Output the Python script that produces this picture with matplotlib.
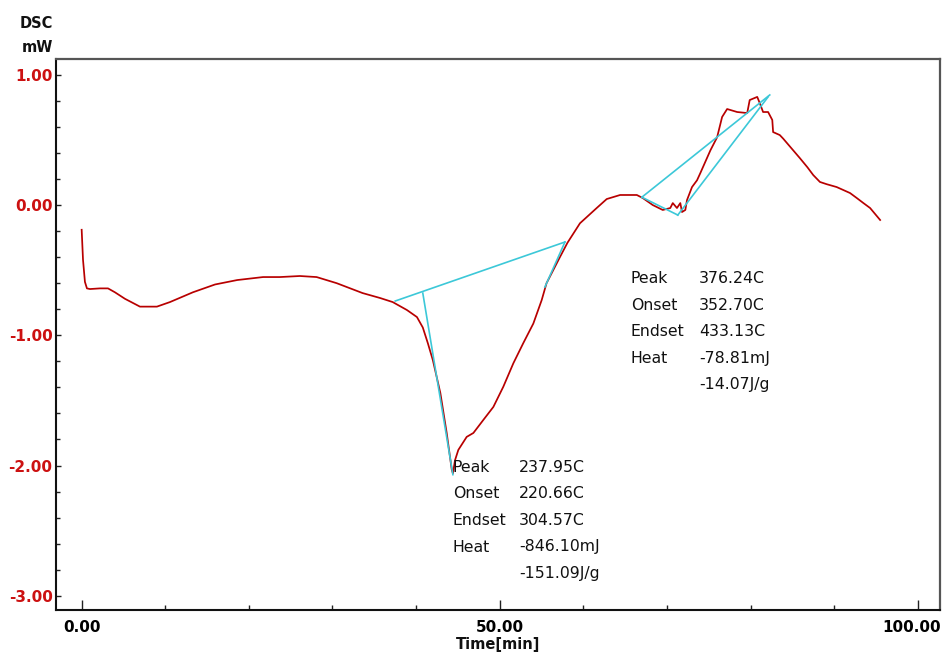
import matplotlib
matplotlib.use("Agg")
import matplotlib.pyplot as plt
import matplotlib.transforms as mtransforms
from matplotlib.ticker import MultipleLocator, FormatStrFormatter

# ---------------- data ----------------
time_min = [0.00, 0.16, 0.39, 0.63, 0.99, 2.19, 3.15, 3.98, 5.18, 6.97, 8.17, 9.00,
            10.56, 13.3, 15.95, 18.6, 21.7, 23.7, 26.1, 28.1, 30.5, 33.6, 35.7, 37.2,
            38.9, 40.1, 40.8, 41.4, 42.0, 42.9, 43.66, 44.26, 44.4, 44.65, 45.05, 46.05,
            46.85, 48.04, 49.24, 50.43, 51.63, 52.82, 54.02, 55.02, 55.6, 56.4, 57.2, 58.1,
            58.8, 59.6, 61.6, 62.8, 64.4, 66.4, 67.1, 68.3,
            69.5, 70.4, 70.7, 71.2, 71.6, 71.8, 72.2, 72.4, 73.0, 73.6, 74.0, 75.2,
            76.0, 76.6, 77.2, 78.4, 79.6, 79.9, 80.8, 81.1, 81.5, 82.1, 82.6, 82.7,
            83.5, 83.9, 85.1, 85.9, 86.8, 87.5, 88.3, 89.1, 90.3, 91.1, 91.9, 92.7,
            93.5, 94.3, 95.5]
dsc_mw = [-0.19, -0.42, -0.59, -0.64, -0.645, -0.64, -0.64, -0.67, -0.72, -0.78, -0.78, -0.78,
          -0.745, -0.67, -0.61, -0.576, -0.553, -0.553, -0.545, -0.553, -0.60, -0.676, -0.714, -0.745,
          -0.806, -0.86, -0.94, -1.06, -1.19, -1.443, -1.75, -2.03, -2.06, -1.96, -1.88, -1.78,
          -1.75, -1.65, -1.55, -1.395, -1.215, -1.06, -0.91, -0.73, -0.60, -0.50, -0.40, -0.29,
          -0.22, -0.14, -0.023, 0.046, 0.077, 0.077, 0.054, 0.0,
          -0.038, -0.023, 0.015, -0.023, 0.015, -0.054, -0.038, 0.038, 0.138, 0.19, 0.246, 0.42,
          0.52, 0.676, 0.737, 0.714, 0.706, 0.806, 0.83, 0.783, 0.714, 0.714, 0.653, 0.56,
          0.537, 0.51, 0.42, 0.36, 0.29, 0.23, 0.177, 0.16, 0.138, 0.115, 0.092, 0.054,
          0.015, -0.023, -0.115]

# analysis construction lines (peak 1)
base1_x = [37.5, 57.8]
base1_y = [-0.737, -0.284]
onset1_x = [40.8, 44.4]
onset1_y = [-0.676, -2.07]
endset1_x = [57.8, 55.4]
endset1_y = [-0.284, -0.63]
# analysis construction lines (peak 2)
base2_x = [67.0, 82.3]
base2_y = [0.06, 0.845]
peak2_x = [67.0, 71.3]
peak2_y = [0.06, -0.077]
tang2_x = [71.3, 82.1]
tang2_y = [-0.077, 0.83]

x_ticks = [0, 50, 100]
y_ticks = [1.0, 0.0, -1.0, -2.0, -3.0]

ann_labels = ["Peak", "Onset", "Endset", "Heat", ""]
ann1_values = ["237.95C", "220.66C", "304.57C", "-846.10mJ", "-151.09J/g"]
ann2_values = ["376.24C", "352.70C", "433.13C", "-78.81mJ", "-14.07J/g"]

# ---------------- figure ----------------
W, H = 943, 659
fig = plt.figure(figsize=(W / 100, H / 100), dpi=100)
fig.patch.set_facecolor("white")

ax_l, ax_r, ax_t, ax_b = 56, 940, 59, 610
ax = fig.add_axes([ax_l / W, 1 - ax_b / H, (ax_r - ax_l) / W, (ax_b - ax_t) / H])

ax.plot(time_min, dsc_mw, color="#b80000", lw=1.25, zorder=3)

cyan = "#3cc8d8"
for xs, ys in [(base1_x, base1_y), (onset1_x, onset1_y), (endset1_x, endset1_y),
               (base2_x, base2_y), (peak2_x, peak2_y), (tang2_x, tang2_y)]:
    ax.plot(xs, ys, color=cyan, lw=1.2, zorder=4)

ax.set_xlim(-3.07, 102.66)
ax.set_ylim(-3.109, 1.121)

ax.set_xticks(x_ticks)
ax.xaxis.set_minor_locator(MultipleLocator(10))
ax.set_yticks(y_ticks)
ax.yaxis.set_minor_locator(MultipleLocator(0.2))
ax.xaxis.set_major_formatter(FormatStrFormatter("%.2f"))
ax.yaxis.set_major_formatter(FormatStrFormatter("%.2f"))

ax.tick_params(axis="x", which="major", direction="in", length=7.2, width=1.0,
               color="#222222", pad=7, labelsize=11)
ax.tick_params(axis="x", which="minor", direction="in", length=3.6, width=1.0, color="#222222")
ax.tick_params(axis="y", which="major", direction="in", length=3.5, width=1.0,
               color="#222222", pad=2.5, labelsize=11, labelcolor="#cc1111")
ax.tick_params(axis="y", which="minor", direction="in", length=3.0, width=1.0, color="#222222")
for lab in ax.get_xticklabels() + ax.get_yticklabels():
    lab.set_fontweight("bold")
    lab.set_family("DejaVu Sans")

# the last x label sits slightly left so it stays inside the figure
last = ax.get_xticklabels()[-1]
last.set_transform(last.get_transform() +
                   mtransforms.ScaledTranslation(-6 / 100, 0, fig.dpi_scale_trans))

for side in ["left", "bottom"]:
    ax.spines[side].set_linewidth(1.5)
    ax.spines[side].set_color("#111111")
for side in ["top", "right"]:
    ax.spines[side].set_linewidth(1.6)
    ax.spines[side].set_color("#555555")

# axis titles
fig.text(53 / W, 1 - 24 / H, "DSC", ha="right", va="center", fontsize=10.5,
         fontweight="bold", color="#111111")
fig.text(53 / W, 1 - 48 / H, "mW", ha="right", va="center", fontsize=10.5,
         fontweight="bold", color="#111111")
fig.text(498 / W, 1 - 645 / H, "Time[min]", ha="center", va="center", fontsize=10.5,
         fontweight="bold", color="#111111")

# annotation blocks
def block(x_lab, x_val, y_first, values):
    for i, (lab, val) in enumerate(zip(ann_labels, values)):
        yb = y_first + i * 26.5
        if lab:
            fig.text(x_lab / W, 1 - yb / H, lab, ha="left", va="baseline",
                     fontsize=11.3, color="#111111")
        fig.text(x_val / W, 1 - yb / H, val, ha="left", va="baseline",
                 fontsize=11.3, color="#111111")

block(453, 519, 472, ann1_values)
block(631, 699, 283, ann2_values)

fig.savefig("out.png", dpi=100, facecolor="white")
